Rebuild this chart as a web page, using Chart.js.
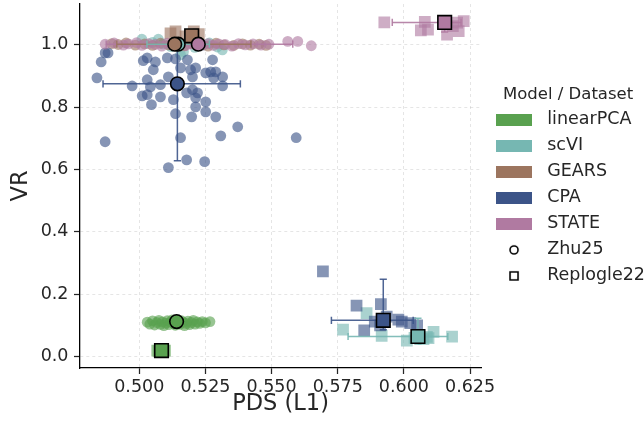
<!DOCTYPE html>
<html>
<head>
<meta charset="utf-8">
<style>
  html, body { margin: 0; padding: 0; background: #fff; }
  #wrap { width: 644px; height: 429px; }
</style>
<script src="https://cdn.jsdelivr.net/npm/chart.js@4.4.0/dist/chart.umd.min.js"></script>
</head>
<body>
<div id="wrap"><canvas id="vrChart"></canvas></div>
<script>
const models = ["linearPCA", "scVI", "GEARS", "CPA", "STATE"];
const modelColors = ["#59a14f", "#76b7b2", "#9c755f", "#3c5488", "#b07aa1"];
const datasetNames = ["Zhu25", "Replogle22"];

const xTicks = [0.5, 0.525, 0.55, 0.575, 0.6, 0.625];
const yTicks = [0.0, 0.2, 0.4, 0.6, 0.8, 1.0];

// per-perturbation scores, [PDS, VR]
const pcaZhu = [[0.5030,0.110],[0.5040,0.104],[0.5050,0.114],[0.5058,0.101],[0.5066,0.109],[0.5074,0.116],[0.5080,0.103],[0.5087,0.111],[0.5093,0.099],[0.5100,0.107],[0.5106,0.115],[0.5112,0.102],[0.5118,0.110],[0.5124,0.117],[0.5130,0.105],[0.5136,0.100],[0.5141,0.112],[0.5147,0.108],[0.5153,0.103],[0.5159,0.115],[0.5165,0.110],[0.5171,0.099],[0.5177,0.106],[0.5184,0.113],[0.5190,0.102],[0.5197,0.109],[0.5204,0.116],[0.5211,0.104],[0.5219,0.111],[0.5228,0.106],[0.5238,0.112],[0.5250,0.108],[0.5267,0.112]];
const pcaRep = [[0.5068,0.019],[0.5076,0.017],[0.5084,0.020],[0.5091,0.018],[0.5097,0.019]];
const scviZhu = [[0.5010,1.018],[0.5072,1.018],[0.5090,1.003],[0.5120,0.994],[0.5156,0.968],[0.5167,0.978],[0.5180,1.004],[0.5210,0.992],[0.5240,0.999],[0.5265,1.006],[0.5295,0.993],[0.5314,0.984],[0.5050,1.008],[0.5135,1.010]];
const scviRep = [[0.5770,0.086],[0.5859,0.139],[0.5916,0.066],[0.6011,0.051],[0.6040,0.060],[0.6074,0.056],[0.6087,0.063],[0.6093,0.059],[0.6112,0.079],[0.6182,0.064]];
const gearsZhu = [[0.4896,1.004],[0.4920,1.001],[0.4950,1.006],[0.4985,0.999],[0.5020,1.003],[0.5050,0.998],[0.5080,1.005],[0.5110,1.000],[0.5140,1.007],[0.5170,0.997],[0.5200,1.004],[0.5230,1.001],[0.5260,0.996],[0.5290,1.005],[0.5320,1.000],[0.5357,0.998],[0.5390,1.003],[0.5420,0.999],[0.5453,1.002],[0.5479,0.998]];
const gearsRep = [[0.5118,1.037],[0.5137,1.043],[0.5206,1.043],[0.5225,1.034],[0.5175,1.027]];
const cpaZhu = [[0.4871,0.974],[0.4882,0.974],[0.4856,0.945],[0.4840,0.894],[0.4973,0.868],[0.5015,0.949],[0.5030,0.958],[0.5061,0.945],[0.5053,0.920],[0.5030,0.888],[0.5042,0.865],[0.5080,0.872],[0.5011,0.836],[0.5030,0.840],[0.5080,0.833],[0.5046,0.808],[0.5110,0.897],[0.5106,0.958],[0.5137,0.955],[0.5156,0.926],[0.5129,0.824],[0.5137,0.779],[0.5156,0.702],[0.5182,0.952],[0.5194,0.920],[0.5213,0.926],[0.5201,0.897],[0.5179,0.846],[0.5201,0.856],[0.5220,0.846],[0.5213,0.830],[0.5251,0.910],[0.5277,0.952],[0.5270,0.913],[0.5289,0.913],[0.5281,0.894],[0.5315,0.897],[0.5315,0.868],[0.5251,0.817],[0.5213,0.801],[0.5251,0.785],[0.5289,0.769],[0.5198,0.769],[0.5372,0.737],[0.5308,0.708],[0.5593,0.702],[0.4871,0.689],[0.5179,0.631],[0.5247,0.625],[0.5110,0.606]];
const cpaRep = [[0.5694,0.273],[0.5821,0.163],[0.5913,0.168],[0.5850,0.084],[0.5890,0.112],[0.5935,0.128],[0.5979,0.118],[0.5992,0.112],[0.6024,0.107],[0.6050,0.100],[0.5910,0.100]];
const stateZhu = [[0.4871,1.002],[0.4905,1.006],[0.4940,0.999],[0.4959,1.003],[0.4990,1.007],[0.5010,0.998],[0.5035,1.004],[0.5060,1.001],[0.5085,0.996],[0.5105,1.005],[0.5125,1.000],[0.5150,1.008],[0.5175,0.997],[0.5195,1.003],[0.5215,1.006],[0.5240,0.999],[0.5260,1.004],[0.5280,0.998],[0.5300,1.003],[0.5325,1.001],[0.5350,0.996],[0.5375,1.004],[0.5400,1.000],[0.5430,1.003],[0.5460,0.999],[0.5490,1.002],[0.5561,1.011],[0.5599,1.011],[0.5650,0.997]];
const stateRep = [[0.5926,1.072],[0.6064,1.046],[0.6079,1.074],[0.6091,1.049],[0.6163,1.033],[0.6185,1.060],[0.6201,1.071],[0.6207,1.044],[0.6226,1.076]];

const zhuPoints = [pcaZhu, scviZhu, gearsZhu, cpaZhu, stateZhu];
const repPoints = [pcaRep, scviRep, gearsRep, cpaRep, stateRep];

// model means per dataset, with spread ranges (null = no bar)
const zhuMeans = [[0.5141,0.112],[0.5147,1.002],[0.5134,1.002],[0.5144,0.875],[0.5223,1.002]];
const repMeans = [[0.5084,0.019],[0.6053,0.064],[0.5198,1.029],[0.5922,0.116],[0.6154,1.072]];
const zhuXErr = [null,[0.5029,0.5265],[0.4915,0.5422],[0.4863,0.5382],[0.4875,0.5580]];
const zhuYErr = [null,null,null,[0.628,1.0],null];
const repXErr = [null,[0.5789,0.6166],null,[0.5726,0.6035],[0.5956,0.6216]];
const repYErr = [null,[0.040,0.123],null,[0.086,0.248],[1.041,1.080]];

const FONT = "'DejaVu Sans', sans-serif";
const TEXT = "#262626";

function rgba(hex, a) {
  const n = parseInt(hex.slice(1), 16);
  return `rgba(${n >> 16}, ${(n >> 8) & 255}, ${n & 255}, ${a})`;
}

function toXY(pairs) {
  return pairs.map(([x, y]) => ({ x, y }));
}

const chartDatasets = [];

// mean markers on top, later models above earlier ones
models.forEach((m, i) => {
  [zhuMeans, repMeans].forEach((means, d) => {
    chartDatasets.push({
      label: m + " " + datasetNames[d] + " mean",
      data: toXY([means[i]]),
      order: -i,
      pointStyle: d === 0 ? "circle" : "rect",
      pointRadius: d === 0 ? 6.8 : 9.6,
      backgroundColor: modelColors[i],
      borderColor: "#000",
      borderWidth: 1.6,
    });
  });
});

// spread bars, drawn as two-point lines with capped ends
function addBar(range, mean, color, horizontal) {
  if (!range) return;
  const pts = horizontal
    ? [[range[0], mean[1]], [range[1], mean[1]]]
    : [[mean[0], range[0]], [mean[0], range[1]]];
  chartDatasets.push({
    label: "bar",
    data: toXY(pts),
    order: 1,
    showLine: true,
    borderColor: rgba(color, 0.9),
    borderWidth: 1.5,
    pointStyle: "line",
    pointRotation: horizontal ? 90 : 0,
    pointRadius: 3.6,
    pointBorderWidth: 1.5,
    pointBorderColor: rgba(color, 0.9),
  });
}
models.forEach((m, i) => {
  addBar(zhuXErr[i], zhuMeans[i], modelColors[i], true);
  addBar(zhuYErr[i], zhuMeans[i], modelColors[i], false);
  addBar(repXErr[i], repMeans[i], modelColors[i], true);
  addBar(repYErr[i], repMeans[i], modelColors[i], false);
});

// individual perturbations, later models drawn above earlier ones
models.forEach((m, i) => {
  chartDatasets.push({
    label: m + " Zhu25",
    data: toXY(zhuPoints[i]),
    order: 10 - i,
    pointStyle: "circle",
    pointRadius: 5.4,
    borderWidth: 0,
    backgroundColor: rgba(modelColors[i], 0.62),
  });
  chartDatasets.push({
    label: m + " Replogle22",
    data: toXY(repPoints[i]),
    order: 10 - i,
    pointStyle: "rect",
    pointRadius: 8.3,
    borderWidth: 0,
    backgroundColor: rgba(modelColors[i], 0.62),
  });
});

// legend swatches
function patch(color) {
  const c = document.createElement("canvas");
  c.width = 36;
  c.height = 12;
  const g = c.getContext("2d");
  g.fillStyle = color;
  g.fillRect(0, 0, 36, 12);
  return c;
}
function marker(kind) {
  const c = document.createElement("canvas");
  c.width = 36;
  c.height = 12;
  const g = c.getContext("2d");
  g.strokeStyle = "#000";
  g.lineWidth = 1.6;
  g.beginPath();
  if (kind === "circle") g.arc(18, 6, 4, 0, Math.PI * 2);
  else g.rect(14, 2, 8, 8);
  g.stroke();
  return c;
}

const legendItems = models
  .map((m, i) => ({ text: m, pointStyle: patch(modelColors[i]), fillStyle: modelColors[i], strokeStyle: "transparent", lineWidth: 0, fontColor: TEXT, hidden: false }))
  .concat([
    { text: datasetNames[0], pointStyle: marker("circle"), fillStyle: "#fff", strokeStyle: "transparent", lineWidth: 0, fontColor: TEXT, hidden: false },
    { text: datasetNames[1], pointStyle: marker("rect"), fillStyle: "#fff", strokeStyle: "transparent", lineWidth: 0, fontColor: TEXT, hidden: false },
  ]);

const ctx = document.getElementById("vrChart").getContext("2d");

new Chart(ctx, {
  type: "scatter",
  data: { datasets: chartDatasets },
  options: {
    responsive: true,
    maintainAspectRatio: false,
    animation: false,
    events: [],
    // legend box hangs a little past the right edge so its title sits further right
    layout: { autoPadding: false, padding: { top: 4, right: -11, bottom: 0, left: 0 } },
    scales: {
      x: {
        type: "linear",
        min: 0.4776,
        max: 0.6292,
        afterFit: (scale) => { scale.height = 61; },
        afterBuildTicks: (scale) => { scale.ticks = xTicks.map((v) => ({ value: v })); },
        ticks: {
          callback: (v) => v.toFixed(3),
          color: TEXT,
          font: { family: FONT, size: 17.5 },
          padding: 3,
          maxRotation: 0,
          autoSkip: false,
        },
        grid: { color: "rgba(0,0,0,0.1)", tickColor: "#262626", tickLength: 6, tickWidth: 1.25 },
        border: { display: true, color: "#000", width: 1.3, dash: [3, 3] },
        title: { display: true, text: "PDS (L1)", color: TEXT, font: { family: FONT, size: 22.5 }, padding: { top: 0, bottom: 11 } },
      },
      y: {
        type: "linear",
        min: -0.037,
        max: 1.131,
        afterFit: (scale) => {
          scale.width = 80;
          scale.paddingTop = 0;
          scale.paddingBottom = 0;
        },
        afterBuildTicks: (scale) => { scale.ticks = yTicks.map((v) => ({ value: v })); },
        ticks: {
          callback: (v) => v.toFixed(1),
          color: TEXT,
          font: { family: FONT, size: 17.5 },
          padding: 5.5,
          autoSkip: false,
        },
        grid: { color: "rgba(0,0,0,0.1)", tickColor: "#262626", tickLength: 6, tickWidth: 1.25 },
        border: { display: true, color: "#000", width: 1.3, dash: [3, 3] },
        title: { display: true, text: "VR", color: TEXT, font: { family: FONT, size: 22.5 }, padding: { top: 8, bottom: 0 } },
      },
    },
    plugins: {
      tooltip: { enabled: false },
      legend: {
        display: true,
        position: "right",
        fullSize: false,
        maxWidth: 176,
        title: {
          display: true,
          text: "Model / Dataset",
          color: TEXT,
          font: { family: FONT, size: 16.5 },
          padding: { top: 8, bottom: -4 },
        },
        labels: {
          usePointStyle: true,
          pointStyleWidth: 48.75,
          padding: 8.5,
          color: TEXT,
          font: { family: FONT, size: 17.5 },
          generateLabels: () => legendItems,
        },
      },
    },
  },
});
</script>
</body>
</html>
